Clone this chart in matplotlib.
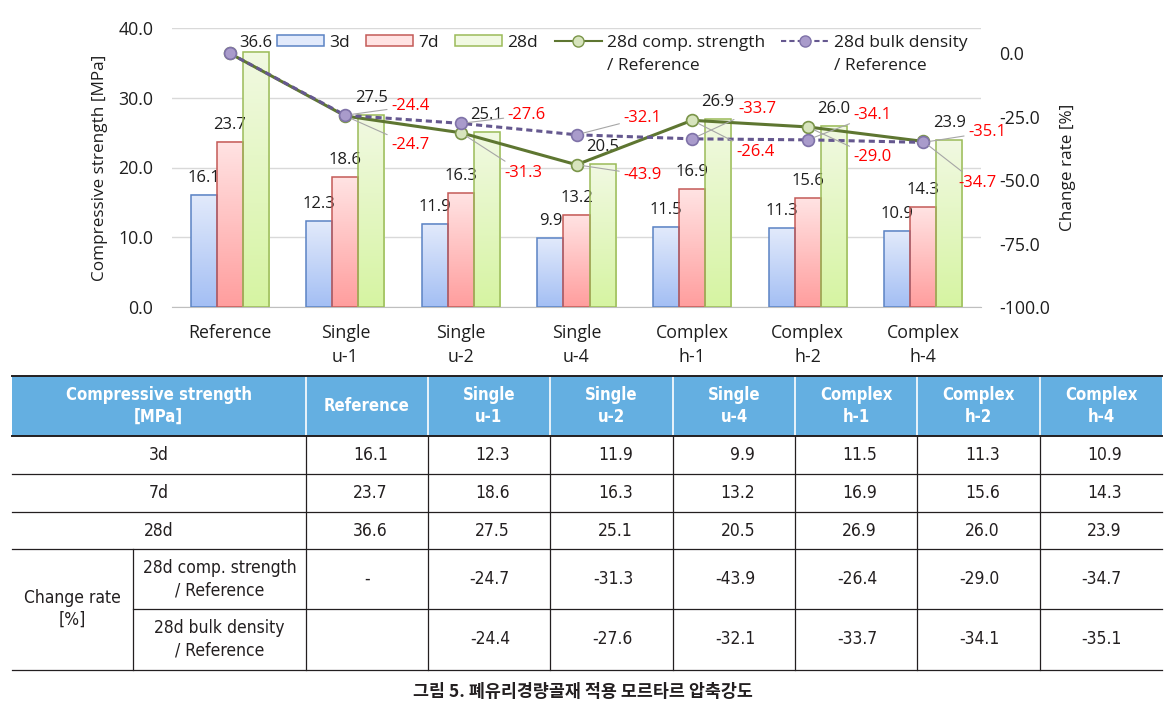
import numpy as np
import matplotlib.pyplot as plt
from matplotlib.colors import LinearSegmentedColormap
from matplotlib.lines import Line2D
from matplotlib.patches import Rectangle

# ── Datos ────────────────────────────────────────────────────────────────────
categories = ["Reference", "Single\nu-1", "Single\nu-2", "Single\nu-4",
              "Complex\nh-1", "Complex\nh-2", "Complex\nh-4"]
strength_3d = [16.1, 12.3, 11.9, 9.9, 11.5, 11.3, 10.9]
strength_7d = [23.7, 18.6, 16.3, 13.2, 16.9, 15.6, 14.3]
strength_28d = [36.6, 27.5, 25.1, 20.5, 26.9, 26.0, 23.9]
rate_comp = [0.0, -24.7, -31.3, -43.9, -26.4, -29.0, -34.7]
rate_bulk = [0.0, -24.4, -27.6, -32.1, -33.7, -34.1, -35.1]
right_ticks = [-100, -75, -50, -25, 0]
caption = "그림 5. 폐유리경량골재 적용 모르타르 압축강도"

CHART_FONT = ["Open Sans", "Noto Sans CJK KR", "DejaVu Sans"]
TABLE_FONT = ["DejaVu Sans"]
plt.rcParams["font.family"] = CHART_FONT

W, H = 1176, 715
fig = plt.figure(figsize=(W / 100, H / 100), dpi=100)
TXT = "#1E1E1E"


def px_box(x0, y0, x1, y1):
    return [x0 / W, 1 - y1 / H, (x1 - x0) / W, (y1 - y0) / H]


# ── Gráfica ──────────────────────────────────────────────────────────────────
ax = fig.add_axes(px_box(172, 28, 981, 307))
ax2 = ax.twinx()

x = np.arange(len(categories))
bw = 0.225
series = [
    (strength_3d, "3d", -bw, ("#A4BFF4", "#E2EAFB"), "#5B83C4"),
    (strength_7d, "7d", 0.0, ("#FF9E9E", "#FFE3E3"), "#C35A57"),
    (strength_28d, "28d", bw, ("#D6F4A2", "#F1F9E2"), "#9BBB59"),
]
bar_handles = []
label_off_28d = [9, 17, 17, 17, 17, 17, 17]
for vals, lab, off, (cbot, ctop), edge in series:
    bars = ax.bar(x + off, vals, bw, facecolor="none", edgecolor=edge,
                  linewidth=1.1, zorder=3)
    cmap = LinearSegmentedColormap.from_list(lab, [cbot, ctop])
    grad = np.linspace(0, 1, 64).reshape(-1, 1)
    for b in bars:
        ax.imshow(grad, cmap=cmap, origin="lower", aspect="auto", zorder=2,
                  extent=[b.get_x(), b.get_x() + b.get_width(), 0, b.get_height()])
    for i, (b, v) in enumerate(zip(bars, vals)):
        dy = label_off_28d[i] if lab == "28d" else 17
        ax.annotate(f"{v:.1f}", (b.get_x() + b.get_width() / 2, v),
                    xytext=(0, dy), textcoords="offset pixels",
                    ha="center", va="center", fontsize=12, color=TXT)
    bar_handles.append(Rectangle((0, 0), 1, 1, facecolor=ctop, edgecolor=edge, linewidth=1.1))

ax.set_xlim(-0.5, len(categories) - 0.5)
ax.set_ylim(0, 40)
ax.set_yticks([0, 10, 20, 30, 40])
ax.set_yticklabels([f"{v:.1f}" for v in [0, 10, 20, 30, 40]])
ax.set_xticks(x)
ax.set_xticklabels(categories, linespacing=1.45)
ax.yaxis.grid(True, color="#D9D9D9", linewidth=1)
ax.set_axisbelow(True)
for s in ["top", "left", "right"]:
    ax.spines[s].set_visible(False)
ax.spines["bottom"].set_color("#BFBFBF")
ax.tick_params(axis="both", length=0, labelsize=12.8, colors=TXT)
ax.tick_params(axis="y", pad=13.5)
ax.tick_params(axis="x", pad=12)
ax.set_ylabel("Compressive strength [MPa]", fontsize=12.3, color=TXT, va="center")
ax.yaxis.set_label_coords((100 - 172) / 809, 0.5)

# líneas de tasa de cambio
green, green_mfc, green_mec = "#5E7631", "#D7E4BD", "#7A9549"
purple, purple_mfc, purple_mec = "#65588F", "#A99BCB", "#7F72A8"
ax2.plot(x, rate_comp, "-o", color=green, lw=2.2, ms=8.5,
         mfc=green_mfc, mec=green_mec, mew=1.2, zorder=3)
ax2.plot(x, rate_bulk, "--o", color=purple, lw=2.2, ms=8.5, dashes=(2.0, 1.3),
         mfc=purple_mfc, mec=purple_mec, mew=1.2, zorder=4)

comp_off = [(65, -29), (62, -40), (66, -10), (63, -32), (65, -30), (54, -42)]
bulk_off = [(65, 9), (66, 8), (66, 17), (65, 30), (65, 25), (64, 10)]
for vals, offs in [(rate_comp, comp_off), (rate_bulk, bulk_off)]:
    for i in range(1, len(vals)):
        ax2.annotate(f"{vals[i]:.1f}", (x[i], vals[i]), xytext=offs[i - 1],
                     textcoords="offset pixels", ha="center", va="center",
                     fontsize=12, color="#FF0000", zorder=5,
                     arrowprops=dict(arrowstyle="-", color="#A6A6A6", lw=0.8,
                                     shrinkA=1, shrinkB=5))

ax2.set_ylim(-100, 10)
ax2.set_yticks(right_ticks)
ax2.set_yticklabels([f"{v:.1f}" for v in right_ticks])
for s in ax2.spines.values():
    s.set_visible(False)
ax2.tick_params(axis="y", length=0, pad=13, labelsize=12.8, colors=TXT)
ax2.set_ylabel("Change rate [%]", fontsize=12.3, color=TXT, va="center")
ax2.yaxis.set_label_coords((1068 - 172) / 809, 0.5)

line_handles = [
    Line2D([], [], color=green, lw=1.5, marker="o", ms=8, mfc=green_mfc, mec=green_mec),
    Line2D([], [], color=purple, lw=1.5, ls="--", dashes=(2.5, 1.5), marker="o", ms=8,
           mfc=purple_mfc, mec=purple_mec),
]
leg = ax.legend(bar_handles + line_handles,
                ["3d", "7d", "28d", "28d comp. strength", "28d bulk density"],
                ncol=5, frameon=False, loc="center",
                bbox_to_anchor=((622 - 172) / 809, (307 - 43) / 279),
                fontsize=12.5, handlelength=2.7, handleheight=0.6,
                handletextpad=0.3, columnspacing=0.95, borderpad=0)
for t in leg.get_texts():
    t.set_color(TXT)

# ── Tabla ────────────────────────────────────────────────────────────────────
tax = fig.add_axes([0, 0, 1, 1])
tax.set_xlim(0, W)
tax.set_ylim(H, 0)
tax.axis("off")

col_x = [11.5, 133, 306, 428, 550, 673, 795, 917, 1040, 1162]
row_y = [376, 436, 474, 512, 549, 609, 670]
lc = "#231F20"

tax.add_patch(Rectangle((col_x[0], row_y[0]), col_x[-1] - col_x[0], row_y[1] - row_y[0],
                        facecolor="#64AFE1", edgecolor="none"))
for cx in col_x[2:-1]:
    tax.plot([cx, cx], [row_y[0], row_y[1]], color="white", lw=1.2)
    tax.plot([cx, cx], [row_y[1], row_y[-1]], color=lc, lw=0.9)
tax.plot([col_x[1]] * 2, [row_y[4], row_y[-1]], color=lc, lw=0.9)
for ry in [row_y[0], row_y[1]]:
    tax.plot([col_x[0], col_x[-1]], [ry, ry], color=lc, lw=1.4)
for ry in [row_y[2], row_y[3], row_y[4], row_y[6]]:
    tax.plot([col_x[0], col_x[-1]], [ry, ry], color=lc, lw=0.9)
tax.plot([col_x[1], col_x[-1]], [row_y[5], row_y[5]], color=lc, lw=0.9)

hdr = dict(ha="center", va="center", fontsize=12, color="white", fontweight="bold",
           family=TABLE_FONT, fontstretch="condensed", linespacing=1.25)
tax.text((col_x[0] + col_x[2]) / 2, 406, "Compressive strength\n[MPa]", **hdr)
for j, c in enumerate(categories):
    tax.text((col_x[j + 2] + col_x[j + 3]) / 2, 406, c, **hdr)

body = dict(va="center", fontsize=12.5, color="#231F20", family=TABLE_FONT,
            fontstretch="condensed", linespacing=1.3)
row_sets = [("3d", strength_3d, 455), ("7d", strength_7d, 493), ("28d", strength_28d, 530.5)]
for name, vals, cy in row_sets:
    tax.text((col_x[0] + col_x[2]) / 2, cy, name, ha="center", **body)
    for j, v in enumerate(vals):
        tax.text(col_x[j + 3] - 40, cy, f"{v:.1f}", ha="right", **body)

tax.text((col_x[0] + col_x[1]) / 2, 609, "Change rate\n[%]", ha="center", **body)
rate_rows = [("28d comp. strength\n/ Reference", rate_comp, "-", 579),
             ("28d bulk density\n/ Reference", rate_bulk, "", 639.5)]
for name, vals, ref_txt, cy in rate_rows:
    tax.text((col_x[1] + col_x[2]) / 2, cy, name, ha="center", **body)
    tax.text((col_x[2] + col_x[3]) / 2, cy, ref_txt, ha="center", **body)
    for j in range(1, len(vals)):
        tax.text(col_x[j + 3] - 40, cy, f"{vals[j]:.1f}", ha="right", **body)

fig.text(583 / W, 1 - 692 / H, caption, ha="center", va="center", fontsize=12.5,
         fontweight="bold", family=["Noto Sans CJK KR", "DejaVu Sans"], color="#231F20")

# segunda línea de las etiquetas de la leyenda
fig.canvas.draw()
renderer = fig.canvas.get_renderer()
for t in leg.get_texts()[3:]:
    bb = t.get_window_extent(renderer)
    fig.text(bb.x0 / W, ((bb.y0 + bb.y1) / 2 - 23) / H, "/ Reference",
             ha="left", va="center", fontsize=12.5, color=TXT)

fig.savefig("out.png", dpi=100)
